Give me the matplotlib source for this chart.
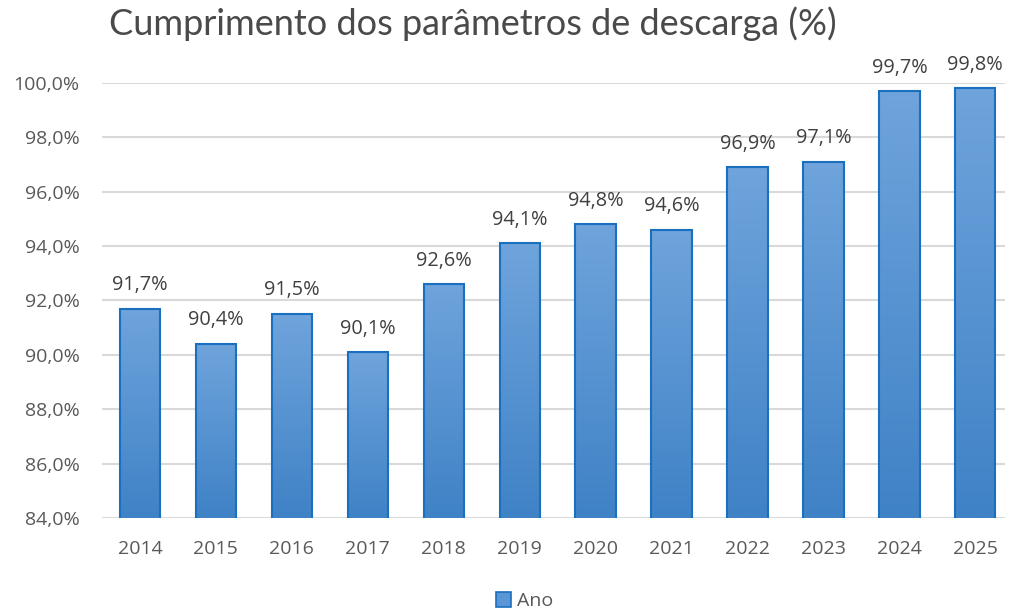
import matplotlib.pyplot as plt
import numpy as np
from matplotlib.colors import LinearSegmentedColormap
from matplotlib.patches import Patch

years = ['2014', '2015', '2016', '2017', '2018', '2019', '2020', '2021', '2022', '2023', '2024', '2025']
values = [91.7, 90.4, 91.5, 90.1, 92.6, 94.1, 94.8, 94.6, 96.9, 97.1, 99.7, 99.8]
yticks = [84, 86, 88, 90, 92, 94, 96, 98, 100]

plt.rcParams['font.family'] = ['Open Sans', 'DejaVu Sans']

fig = plt.figure(figsize=(10.09, 6.12), dpi=100)
ax = fig.add_axes([0.101, 0.1536, 0.895, 0.7108])

x = np.arange(len(years))
bars = ax.bar(x, values, width=0.53, color='none', edgecolor='#1a6fbf', linewidth=1.5, zorder=3)

# vertical gradient inside each bar
cmap = LinearSegmentedColormap.from_list('blu', ['#3f82c6', '#6fa4dc'])
grad = np.linspace(0, 1, 256).reshape(-1, 1)
for b in bars:
    bx = b.get_x()
    im = ax.imshow(grad, extent=[bx, bx + b.get_width(), 84, b.get_height()],
                   origin='lower', aspect='auto', cmap=cmap, zorder=2)
    im.set_clip_path(b)

for xi, v in zip(x, values):
    ax.text(xi, v + 0.5, f'{v:.1f}%'.replace('.', ','), ha='center', va='bottom',
            fontsize=14.3, color='#404040')

ax.set_xlim(-0.5, 11.39)
ax.set_ylim(84, 100)
ax.set_yticks(yticks)
ax.set_yticklabels([f'{t:.1f}%'.replace('.', ',') for t in yticks], fontsize=14, color='#595959')
ax.set_xticks(x)
ax.set_xticklabels(years, fontsize=14, color='#595959')
ax.tick_params(axis='x', length=0, pad=16)
ax.tick_params(axis='y', length=0, pad=16)
ax.yaxis.grid(True, color='#d9d9d9', linewidth=1.5, zorder=0)
ax.set_axisbelow(True)
for s in ax.spines.values():
    s.set_visible(False)

fig.text(0.469, 0.962, 'Cumprimento dos parâmetros de descarga (%)', ha='center', va='center',
         fontsize=26, color='#4a4a4a', family=['Lato', 'DejaVu Sans'])

handle = Patch(facecolor='#5a96d6', edgecolor='#1a6fbf', linewidth=1.2)
fig.legend([handle], ['Ano'], loc='center', bbox_to_anchor=(0.52, 0.018), frameon=False,
           fontsize=14, labelcolor='#595959', handlelength=0.8, handleheight=0.8, handletextpad=0.3)

fig.savefig('out.png', dpi=100)
